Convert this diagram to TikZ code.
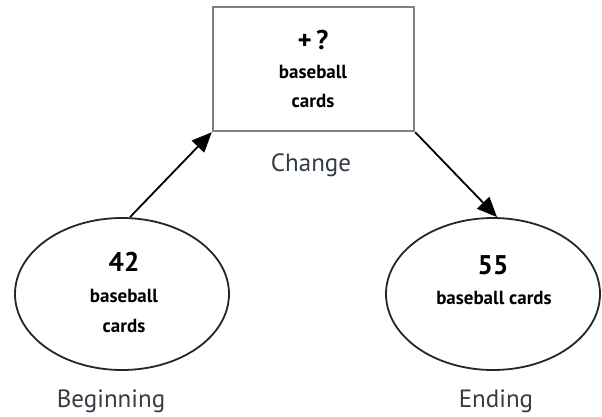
\documentclass[tikz,border=0pt]{standalone}
\usepackage{fontspec}
\setmainfont{PT Sans}
\usetikzlibrary{shapes.geometric,arrows.meta}
\definecolor{labelgray}{HTML}{343C46}
\begin{document}
\begin{tikzpicture}[x=1pt,y=-1pt,
  state/.style={ellipse,draw=black!85,line width=1.8pt,minimum width=214pt,minimum height=152pt,inner sep=0pt,align=center},
  changebox/.style={rectangle,draw=black!50,line width=2.4pt,minimum width=201pt,minimum height=124pt,inner sep=0pt,align=center},
  caption/.style={text=labelgray,font=\fontsize{25}{28}\selectfont},
  num/.style={font=\bfseries\fontsize{27}{30}\selectfont},
  small/.style={font=\bfseries\fontsize{19}{24}\selectfont},
  flow/.style={-{Triangle[length=20pt,width=17pt]},line width=1.8pt,black}]
\useasboundingbox (0,0) rectangle (602,416);
\node[changebox] (chg) at (313.5,69) {};
\node[num] (chgnum) at (313,40) {+\,?};
\node[small] (chgt1) at (313,72) {baseball};
\node[small] (chgt2) at (313,101) {cards};
\node[caption] (chgcap) at (311,165) {Change};

\node[state] (beg) at (122,294) {};
\node[num] (begnum) at (124,262) {42};
\node[small] (begt1) at (124,296) {baseball};
\node[small] (begt2) at (124,326) {cards};
\node[caption] (begcap) at (111,401) {Beginning};

\node[state] (end) at (493,294) {};
\node[num] (endnum) at (493,265) {55};
\node[small] (endt1) at (494,298) {baseball cards};
\node[caption] (endcap) at (496,401) {Ending};

\draw[flow] (beg.north) ++(8,0) -- (chg.south west);
\draw[flow] (chg.south east) -- ([xshift=4pt]end.north);
\end{tikzpicture}
\end{document}
